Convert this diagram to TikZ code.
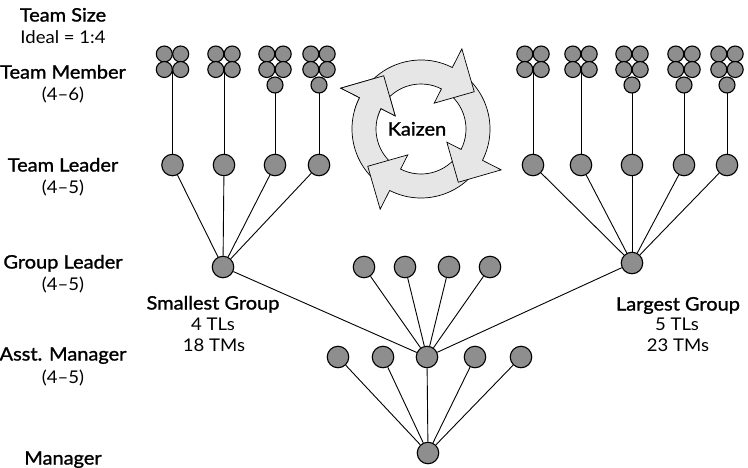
\documentclass[tikz,border=0pt]{standalone}
\usepackage{fontspec}
\setmainfont{Lato}[FakeStretch=1.06]
\newfontfamily\medfont{Lato}[FakeStretch=1.08, FakeBold=1.3]
\usetikzlibrary{positioning, backgrounds}
\definecolor{dotcol}{HTML}{8E8E8E}
\definecolor{cyclecol}{HTML}{E6E6E6}

% one arrow of the kaizen cycle: #1 tail angle, #2 angle of the head base
\newcommand{\kzarrow}[2]{%
  \draw[cyclearrow] (#1:69pt) arc[start angle=#1, end angle=#2, radius=69pt]
    -- (#2:90pt) -- ({#2-28}:65pt) -- (#2:29pt) -- (#2:45pt)
    arc[start angle=#2, end angle=#1, radius=45pt] -- cycle;}

\begin{document}
\begin{tikzpicture}[
    x=1pt, y=-1pt,
    every node/.style={anchor=base},
    head/.style={font=\medfont\fontsize{18.5}{20}\selectfont},
    sub/.style={font=\fontsize{17.5}{20}\selectfont},
    member/.style={circle, draw=black, fill=dotcol, line width=1.1pt,
        minimum size=16pt, inner sep=0pt, anchor=center},
    person/.style={circle, draw=black, fill=dotcol, line width=1.1pt,
        minimum size=21.5pt, inner sep=0pt, anchor=center},
    link/.style={line width=0.9pt, black},
    cyclearrow/.style={draw=black, fill=cyclecol, line width=0.7pt, line join=miter},
]
\useasboundingbox (0,0) rectangle (748,467);

% ===== Level labels =====
\node[head] (tsize) at (63,21.5) {Team Size};
\node[sub]  (ideal) at (63,43.5) {Ideal = 1:4};
\node[head] (tmlbl) at (63,78.5) {Team Member};
\node[sub]  (tmnum) at (63,100.5) {(4–6)};
\node[head] (tllbl) at (63,171.5) {Team Leader};
\node[sub]  (tlnum) at (63,193.5) {(4–5)};
\node[head] (gllbl) at (63,268.5) {Group Leader};
\node[sub]  (glnum) at (63,290.5) {(4–5)};
\node[head] (amlbl) at (63,360.5) {Asst. Manager};
\node[sub]  (amnum) at (63,383.5) {(4–5)};
\node[head] (mglbl) at (63,464.5) {Manager};

% ===== Kaizen cycle =====
\coordinate (kz) at (421,129);
\begin{scope}[shift={(kz)}]
    \kzarrow{237}{153}
    \kzarrow{-33}{-117}
    \kzarrow{57}{-27}
    \kzarrow{147}{63}
    \begin{scope}
        \clip (0,0) -- (165:120pt) arc[start angle=165, end angle=110, radius=120pt] -- cycle;
        \kzarrow{237}{153}
    \end{scope}
\end{scope}
\node[head] (kaizen) at (417,135.5) {Kaizen};

% ===== Team members and team leaders =====
\foreach \i/\x/\n in {1/172.5/4, 2/224/4, 3/275/5, 4/319/5,
                      5/533/4, 6/581/4, 7/632/5, 8/684/5, 9/727/5}{
    \node[member] (tm\i-a) at (\x-8.2,54) {};
    \node[member] (tm\i-b) at (\x+8.2,54) {};
    \node[member] (tm\i-c) at (\x-8.2,69.5) {};
    \node[member] (tm\i-d) at (\x+8.2,69.5) {};
    \ifnum\n=5
        \node[member] (tm\i-e) at (\x,85) {};
        \coordinate (stem\i) at (tm\i-e);
    \else
        \coordinate (stem\i) at (\x,70);
    \fi
    \node[person] (tl\i) at (\x,165) {};
    \begin{scope}[on background layer]
        \draw[link] (stem\i) -- (tl\i);
    \end{scope}
}

% ===== Group leaders, assistant managers, manager =====
\node[person] (gl1) at (223,267) {};
\node[person] (gl2) at (632,263) {};

\node[person] (p1) at (364,267) {};
\node[person] (p2) at (405,267) {};
\node[person] (p3) at (449,267) {};
\node[person] (p4) at (490,267) {};

\node[person] (am1) at (338,357) {};
\node[person] (am2) at (383,357) {};
\node[person] (am3) at (427,357) {};
\node[person] (am4) at (475,357) {};
\node[person] (am5) at (521,357) {};

\node[person] (mgr) at (428,453) {};

% ===== Group notes =====
\node[head] (small) at (213,309.5) {Smallest Group};
\node[sub]  (smtl)  at (213,330.5) {4 TLs};
\node[sub]  (smtm)  at (214,351.5) {18 TMs};
\node[head] (large) at (678,310.5) {Largest Group};
\node[sub]  (lgtl)  at (677,330.5) {5 TLs};
\node[sub]  (lgtm)  at (678,351.5) {23 TMs};

% ===== Links =====
\foreach \i in {1,...,4} \draw[link] (tl\i) -- (gl1);
\foreach \i in {5,...,9} \draw[link] (tl\i) -- (gl2);
\draw[link] (gl1) -- (am3);
\draw[link] (gl2) -- (am3);
\foreach \i in {1,...,4} \draw[link] (p\i) -- (am3);
\foreach \i in {1,...,5} \draw[link] (am\i) -- (mgr);

\end{tikzpicture}
\end{document}
